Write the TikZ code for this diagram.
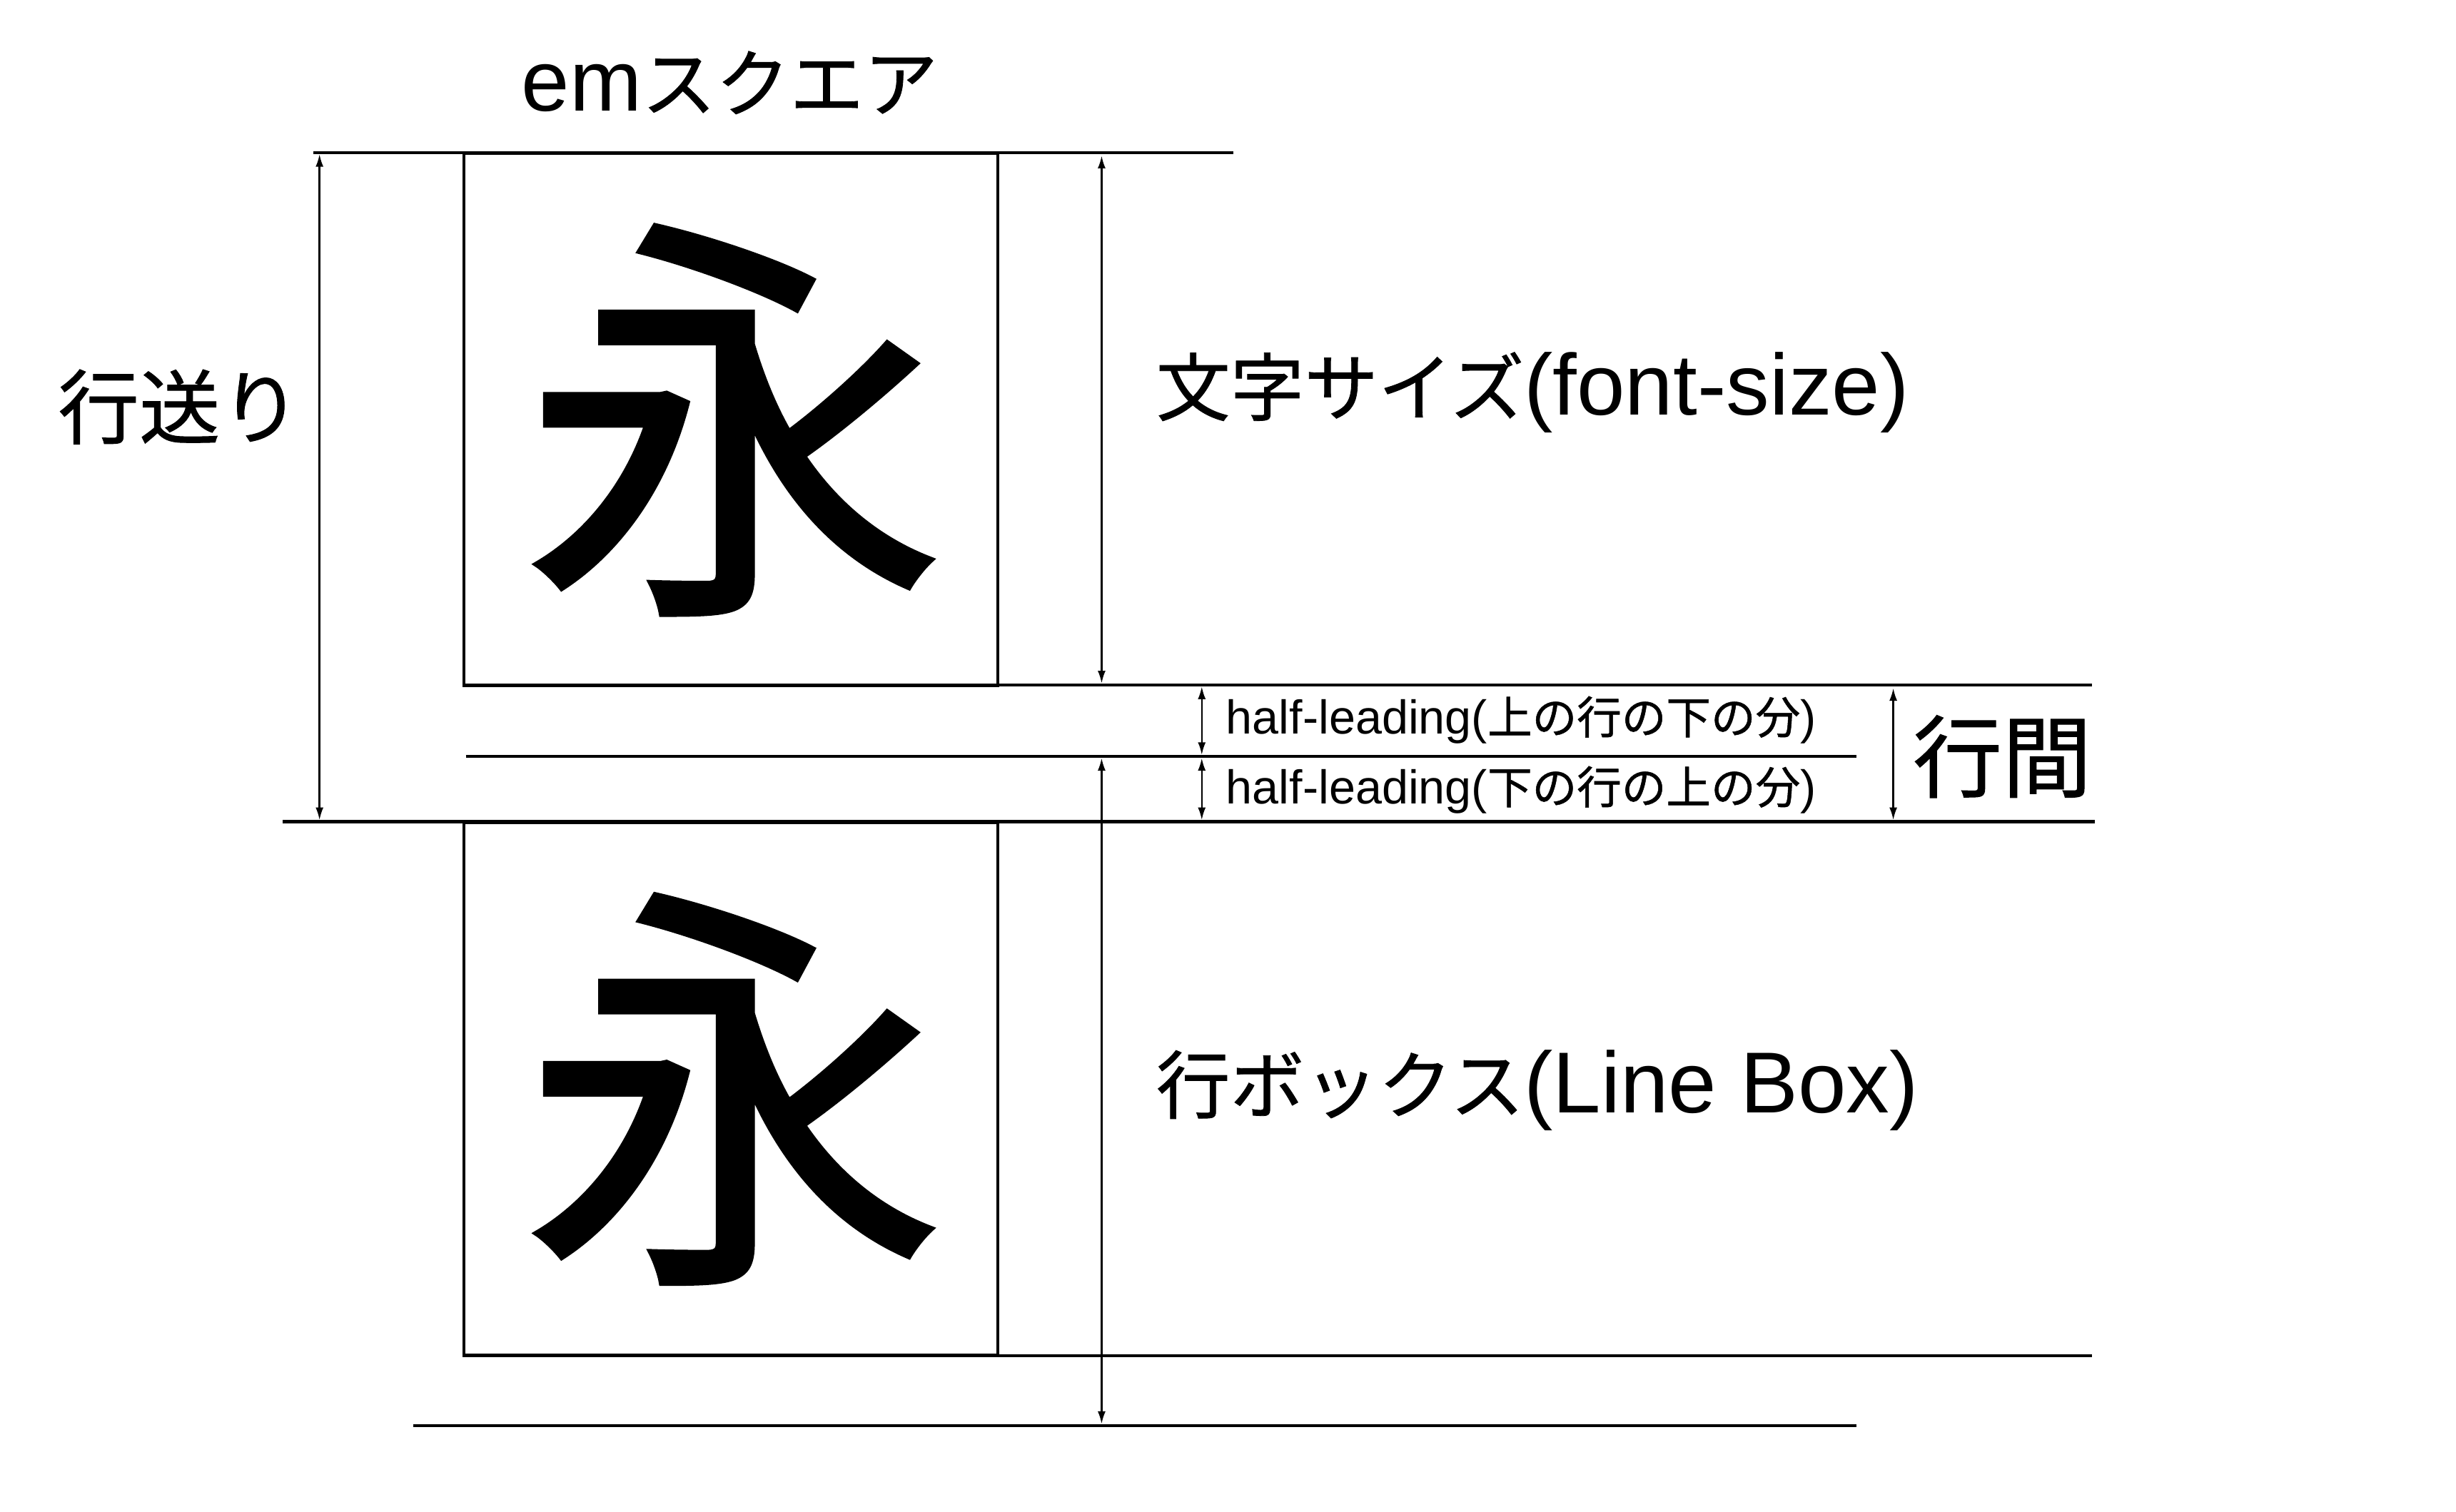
\documentclass[tikz,border=0pt]{standalone}
\usepackage{fontspec}
\setmainfont{Liberation Sans}
\newfontfamily\jp[FakeBold=0.8]{Noto Sans CJK JP}
\newfontfamily\jpk[FakeBold=1.2]{Noto Sans CJK JP}
\usetikzlibrary{arrows.meta}
\newcommand\MyLatBig{\fontsize{31}{36}\selectfont}
\newcommand\MyJpBig{\jp\fontsize{26.5}{36}\selectfont}
\newcommand\MyLatSm{\fontsize{17}{22}\selectfont}
\newcommand\MyJpSm{\jp\fontsize{16}{22}\selectfont}
\begin{document}
\begin{tikzpicture}[x=0.02cm,y=-0.02cm,
  rule/.style={line width=1.1pt},
  boxline/.style={line width=0.9pt},
  dim/.style={line width=0.6pt,{Latex[length=4.5pt,width=2.8pt]}-{Latex[length=4.5pt,width=2.8pt]}},
  lbl/.style={inner sep=0pt,anchor=west},
  emsq/.style={draw,boxline,minimum width=6.72cm,minimum height=6.70cm,anchor=north west,inner sep=0pt},
  kanji/.style={inner sep=0pt,font=\jpk\fontsize{152}{160}\selectfont},
]
\useasboundingbox (0,0) rectangle (1545,951);
% em boxes
\node[emsq] (boxA) at (291,96) {};
\node[emsq] (boxB) at (291,517) {};
\node[kanji] (kA) at ([xshift=0.04cm]boxA.center) {永};
\node[kanji] (kB) at ([xshift=0.04cm]boxB.center) {永};
% horizontal rules
\coordinate (r1a) at (197,96);  \coordinate (r1b) at (776,96);
\coordinate (r2a) at (291,431); \coordinate (r2b) at (1316,431);
\coordinate (r3a) at (293,476); \coordinate (r3b) at (1168,476);
\coordinate (r4a) at (178,517); \coordinate (r4b) at (1318,517);
\coordinate (r5a) at (291,853); \coordinate (r5b) at (1316,853);
\coordinate (r6a) at (260,897); \coordinate (r6b) at (1168,897);
\draw[rule] (r1a) -- (r1b);
\draw[rule] (r2a) -- (r2b);
\draw[rule] (r3a) -- (r3b);
\draw[rule] (r4a) -- (r4b);
\draw[rule] (r5a) -- (r5b);
\draw[rule] (r6a) -- (r6b);
% dimension arrows
\coordinate (a1a) at (201,97);  \coordinate (a1b) at (201,516);
\coordinate (a2a) at (693,98);  \coordinate (a2b) at (693,430);
\coordinate (a3a) at (693,477); \coordinate (a3b) at (693,896);
\coordinate (a4a) at (756,432); \coordinate (a4b) at (756,475);
\coordinate (a5a) at (756,477); \coordinate (a5b) at (756,516);
\coordinate (a6a) at (1191,433); \coordinate (a6b) at (1191,516);
\draw[dim] (a1a) -- (a1b);
\draw[dim] (a2a) -- (a2b);
\draw[dim] (a3a) -- (a3b);
\draw[dim] (a4a) -- (a4b);
\draw[dim] (a5a) -- (a5b);
\draw[dim] (a6a) -- (a6b);
% labels
\node[inner sep=0pt] (emlbl) at (459,52) {\MyLatBig em{\MyJpBig スクエア}};
\node[inner sep=0pt] (gyookuri) at (113,256) {\jp\fontsize{29}{34}\selectfont 行送り};
\node[lbl] (fs) at (727,247) {\MyLatBig{\MyJpBig 文字サイズ}(font-size)};
\node[lbl] (lb) at (727,686) {\MyLatBig{\MyJpBig 行ボックス}(Line Box)};
\node[lbl] (h1) at (771,453) {\MyLatSm half-leading({\MyJpSm 上の行の下の分})};
\node[lbl] (h2) at (771,497) {\MyLatSm half-leading({\MyJpSm 下の行の上の分})};
\node[lbl] (gk) at (1203,476) {\jp\fontsize{32}{36}\selectfont 行間};
\end{tikzpicture}
\end{document}
